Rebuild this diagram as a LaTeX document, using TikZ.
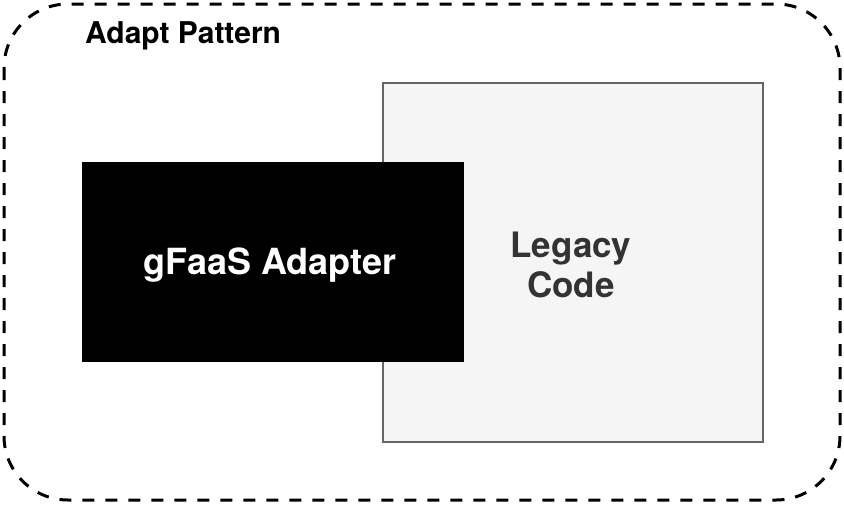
\documentclass[tikz,border=0pt]{standalone}
\usepackage{fontspec}
\setmainfont{TeX Gyre Heros}
\usetikzlibrary{positioning}
\definecolor{legacyfill}{HTML}{F5F5F5}
\definecolor{legacyline}{HTML}{666666}
\definecolor{legacytext}{HTML}{333333}

\begin{document}
\begin{tikzpicture}[x=1pt, y=-1pt]
  \useasboundingbox (0,0) rectangle (844,504);
  % draw dashed outer pattern box
  \draw[line width=3pt, dash pattern=on 12pt off 11pt, rounded corners=64pt] (4,4) rectangle (840,500);
  \node[anchor=base west, inner sep=0pt, font=\bfseries\fontsize{30}{34}\selectfont] (pattern_title) at (85,43) {Adapt Pattern};
  % draw legacy code box
  \draw[legacyline, fill=legacyfill, line width=1.5pt] (383,83) rectangle (763,442);
  \coordinate (legacy_centre) at (571,265);
  \node[text=legacytext, align=center, font=\bfseries\fontsize{35}{40}\selectfont] (legacy_code) at (legacy_centre) {Legacy\\Code};
  % draw black adapter box on top
  \fill[black] (82,162) rectangle (464,362);
  \node[text=white, anchor=base, inner sep=0pt, font=\bfseries\fontsize{36}{40}\selectfont] (gfaas_adapter) at (270,274) {gFaaS Adapter};
\end{tikzpicture}
\end{document}
